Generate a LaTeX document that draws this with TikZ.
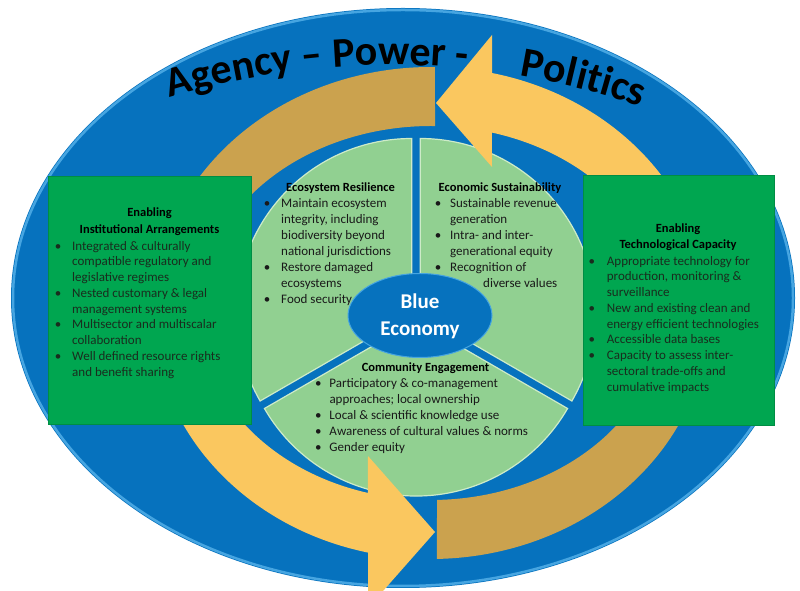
\documentclass[tikz,border=0pt]{standalone}
\usepackage{fontspec}
\setmainfont{Carlito}
\usepackage{tikz}
\usetikzlibrary{decorations.text}

\definecolor{oceanblue}{RGB}{6,114,190}
\definecolor{rimblue}{RGB}{70,165,225}
\definecolor{ringyellow}{RGB}{250,199,95}
\definecolor{ringtan}{RGB}{203,162,78}
\definecolor{piegreen}{RGB}{145,208,145}
\definecolor{pierim}{RGB}{205,235,200}
\definecolor{boxgreen}{RGB}{0,166,80}
\definecolor{boxtext}{RGB}{25,45,30}
\definecolor{pietext}{RGB}{25,25,25}

\newlength{\bulw}
\newcommand{\bul}{\makebox[\bulw][l]{\textbullet}}
\newcommand{\ind}{\hspace*{\bulw}}
\newcommand{\bannerfont}{\bfseries\fontsize{42}{42}\selectfont}

\begin{document}
\begin{tikzpicture}[x=1pt,y=1pt,
  sector/.style={fill=piegreen,draw=pierim,line width=1.2pt},
  enabler/.style={fill=boxgreen,draw=boxgreen!85!black,line width=0.5pt},
  head/.style={inner sep=0pt,align=center,text=black,font=\bfseries\fontsize{12.5}{16.5}\selectfont},
  items/.style={anchor=north west,inner sep=0pt,align=left,text=pietext,
    execute at begin node={\global\bulw=#1},font=\fontsize{13}{16}\selectfont},
  boxitems/.style={items=#1,font=\fontsize{13}{15.75}\selectfont,text=boxtext},
]
\useasboundingbox (0,0) rectangle (800,591);
%\draw[help lines,step=50] (0,0) grid (800,591);

% centres of the arrow ring and of the pie
\coordinate (C) at (431,278);
\coordinate (P) at (416,275);

% the ocean
\fill[oceanblue] (403,293) ellipse [x radius=392, y radius=290];
\draw[rimblue,line width=2.5pt] (403,293) ellipse [x radius=390, y radius=288];

% tan halves of the ring
\fill[ringtan] ([shift={(C)}]89.2:278 and 246)
  arc[start angle=89.2,end angle=185,x radius=278,y radius=246]
  -- ([shift={(C)}]185:232 and 187)
  arc[start angle=185,end angle=89,x radius=232,y radius=187] -- cycle;
\fill[ringtan] ([shift={(C)}]271.2:278 and 246)
  arc[start angle=271.2,end angle=365,x radius=278,y radius=246]
  -- ([shift={(C)}]5:232 and 187)
  arc[start angle=365,end angle=271.5,x radius=232,y radius=187] -- cycle;

% pie of three sectors
\filldraw[sector] (P) ++(150:5) -- ++(90:175) arc[start angle=90,end angle=210,radius=175] -- cycle;
\filldraw[sector] (P) ++(30:5) -- ++(-30:175) arc[start angle=-30,end angle=90,radius=175] -- cycle;
\filldraw[sector] (P) ++(270:5) -- ++(210:175) arc[start angle=210,end angle=330,radius=175] -- cycle;

% yellow arrows
\fill[ringyellow] (492,556) -- ([shift={(C)}]77.3:278 and 246)
  arc[start angle=77.3,end angle=-5,x radius=278,y radius=246]
  -- ([shift={(C)}]-5:232 and 187)
  arc[start angle=-5,end angle=74.8,x radius=232,y radius=187]
  -- (492,424) -- (436,488) -- cycle;
\fill[ringyellow] ([shift={(C)}]175:278 and 246)
  arc[start angle=175,end angle=256.9,x radius=278,y radius=246]
  -- (368,-17) -- (435,59) -- (368,135)
  -- ([shift={(C)}]254.2:232 and 187)
  arc[start angle=254.2,end angle=175,x radius=232,y radius=187] -- cycle;

% hub
\filldraw[fill=oceanblue,draw=rimblue,line width=1pt] (420,275.5) ellipse [x radius=72, y radius=42];
\node[text=white,align=center,inner sep=0pt,font=\bfseries\fontsize{21}{27}\selectfont] (hub) at (420,274.5) {Blue\\Economy};

% enabling boxes
\filldraw[enabler] (48,167) rectangle (251,415);
\filldraw[enabler] (583,166) rectangle (774,416);

\node[head] (instHead) at (149.5,369.5) {Enabling\\Institutional Arrangements};
\node[boxitems=17.3pt] (instList) at (54.7,352.1) {\strut\bul Integrated \& culturally\\
  \ind compatible regulatory and\\
  \ind legislative regimes\\
  \bul Nested customary \& legal\\
  \ind management systems\\
  \bul Multisector and multiscalar\\
  \ind collaboration\\
  \bul Well defined resource rights\\
  \ind and benefit sharing};

\node[head] (techHead) at (678,354) {Enabling\\Technological Capacity};
\node[boxitems=18.3pt] (techList) at (588.4,337.1) {\strut\bul Appropriate technology for\\
  \ind production, monitoring \&\\
  \ind surveillance\\
  \bul New and existing clean and\\
  \ind energy efficient technologies\\
  \bul Accessible data bases\\
  \bul Capacity to assess inter-\\
  \ind sectoral trade-offs and\\
  \ind cumulative impacts};

% sector texts
\node[head] (ecoHead) at (340.5,403) {Ecosystem Resilience};
\node[items=17.3pt] (ecoList) at (263.7,395.1) {\strut\bul Maintain ecosystem\\
  \ind integrity, including\\
  \ind biodiversity beyond\\
  \ind national jurisdictions\\
  \bul Restore damaged\\
  \ind ecosystems\\
  \bul Food security};

\node[head] (econHead) at (500,403) {Economic Sustainability};
\node[items=15.3pt] (econList) at (434.7,395.1) {\strut\bul Sustainable revenue\\
  \ind generation\\
  \bul Intra- and inter-\\
  \ind generational equity\\
  \bul Recognition of\\
  \hspace*{48.3pt}diverse values};

\node[head] (commHead) at (425.5,223) {Community Engagement};
\node[items=14.3pt] (commList) at (315,215.1) {\strut\bul Participatory \& co-management\\
  \ind approaches; local ownership\\
  \bul Local \& scientific knowledge use\\
  \bul Awareness of cultural values \& norms\\
  \bul Gender equity};

% banner along the top
\path[decorate,decoration={text along path,text align=center,
  text={|\bannerfont|Agency – Power -}}]
  ([shift={(391,-243)}]110:769) arc[start angle=110,end angle=81,radius=769];
\path[decorate,decoration={text along path,text align=center,
  text={|\bannerfont|Politics}}]
  ([shift={(391,-243)}]82:769) arc[start angle=82,end angle=69.4,radius=769];
\end{tikzpicture}
\end{document}
